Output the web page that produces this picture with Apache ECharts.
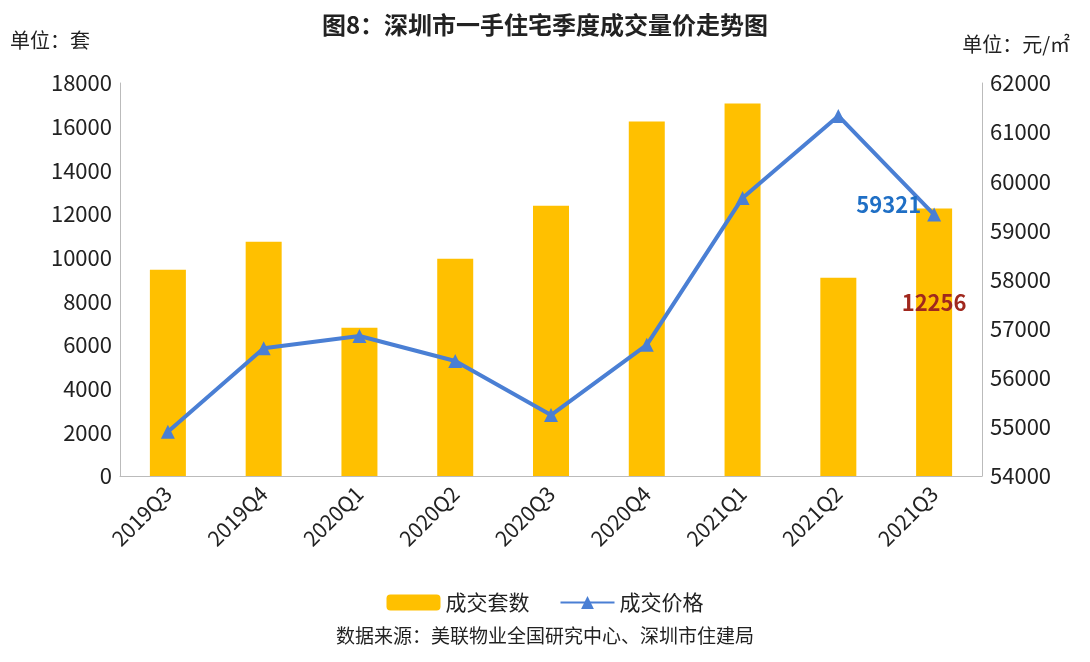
<!doctype html>
<html lang="zh">
<head>
<meta charset="UTF-8">
<title>深圳市一手住宅季度成交量价走势图</title>
<style>
  html, body { margin: 0; padding: 0; background: #fff; }
  #chart { width: 1090px; height: 662px; }
</style>
</head>
<body>
<div id="chart"></div>
<script src="https://cdn.jsdelivr.net/npm/echarts@6/dist/echarts.min.js"></script>
<script>
var quarters = ['2019Q3', '2019Q4', '2020Q1', '2020Q2', '2020Q3', '2020Q4', '2021Q1', '2021Q2', '2021Q3'];
var dealCounts = [9450, 10730, 6790, 9950, 12380, 16240, 17060, 9080, 12256];
var dealPrices = [54900, 56600, 56850, 56340, 55240, 56670, 59660, 61330, 59321];

var font = '"Noto Sans CJK SC", "Noto Sans", sans-serif';
var chart = echarts.init(document.getElementById('chart'));

// plain numbers, no thousands separators
function plain(v) { return String(v); }

var option = {
  textStyle: { fontFamily: font },
  title: {
    text: '图8：深圳市一手住宅季度成交量价走势图',
    left: 'center', top: 8,
    textStyle: { fontSize: 24, fontWeight: 'bold', color: '#222', fontFamily: font }
  },
  graphic: [
    { type: 'text', left: 10, top: 30, style: { text: '单位：套', fill: '#222', font: '20px ' + font } },
    { type: 'text', right: 20, top: 34, style: { text: '单位：元/㎡', fill: '#222', font: '20px ' + font } },
    { type: 'text', left: 'center', top: 626, style: { text: '数据来源：美联物业全国研究中心、深圳市住建局', fill: '#222', font: '19px ' + font } }
  ],
  legend: {
    bottom: 44, itemGap: 30, itemWidth: 54, itemHeight: 16,
    textStyle: { fontSize: 21, color: '#222' },
    data: ['成交套数', { name: '成交价格', itemStyle: { color: '#4A7FD4' } }]
  },
  grid: { left: 120, right: 108, top: 83, bottom: 186 },
  xAxis: {
    type: 'category', data: quarters,
    axisTick: { show: false },
    axisLine: { lineStyle: { color: '#bbb' } },
    axisLabel: { rotate: 45, fontSize: 21, color: '#222', margin: 14 }
  },
  yAxis: [
    {
      type: 'value', min: 0, max: 18000, interval: 2000,
      axisLabel: { fontSize: 22, color: '#222', formatter: plain },
      axisLine: { show: true, lineStyle: { color: '#bbb' } },
      splitLine: { show: false }
    },
    {
      type: 'value', min: 54000, max: 62000, interval: 1000,
      axisLabel: { fontSize: 22, color: '#222', formatter: plain },
      axisLine: { show: true, lineStyle: { color: '#bbb' } },
      splitLine: { show: false }
    }
  ],
  series: [
    {
      name: '成交套数', type: 'bar', data: dealCounts, barWidth: 36,
      itemStyle: { color: '#FFC000' },
      label: {
        show: true, position: 'insideTop', offset: [0, 78], fontSize: 22, fontWeight: 'bold', color: '#A0281E',
        formatter: function (p) { return p.dataIndex === dealCounts.length - 1 ? String(p.value) : ''; }
      }
    },
    {
      name: '成交价格', type: 'line', yAxisIndex: 1, data: dealPrices,
      symbol: 'triangle', symbolSize: 14,
      lineStyle: { color: '#4A7FD4', width: 4 },
      itemStyle: { color: '#4A7FD4' },
      label: {
        show: true, position: 'left', distance: 6, offset: [0, -10], fontSize: 22, fontWeight: 'bold', color: '#1F6FC5',
        formatter: function (p) { return p.dataIndex === dealPrices.length - 1 ? String(p.value) : ''; }
      }
    }
  ]
};
chart.setOption(option);
</script>
</body>
</html>
